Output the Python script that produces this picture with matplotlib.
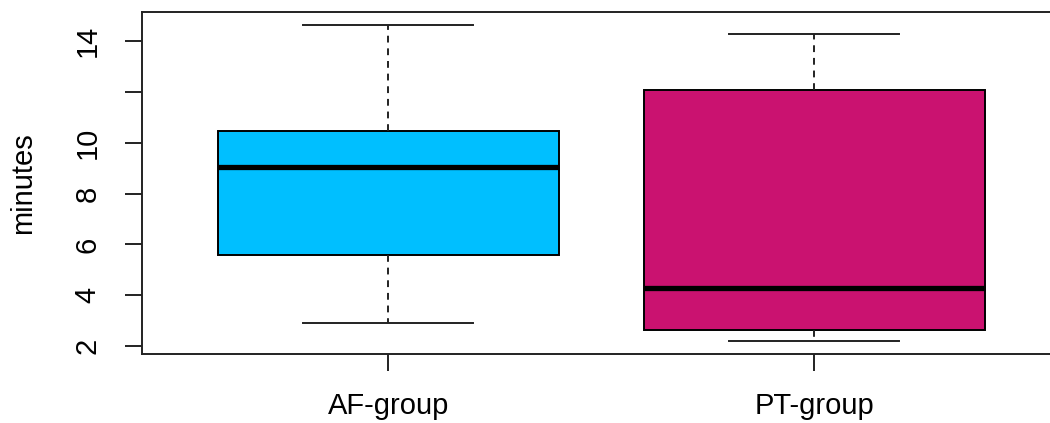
import matplotlib
matplotlib.use("Agg")
import matplotlib.pyplot as plt

# Box summary values (minutes)
groups = ["AF-group", "PT-group"]
whislo = [2.92, 2.20]
q1 = [5.58, 2.63]
med = [9.04, 4.29]
q3 = [10.46, 12.06]
whishi = [14.63, 14.27]
colors = ["#00BFFF", "#CA1270"]

yticks = [2, 4, 6, 8, 10, 12, 14]
ytick_labels = ["2", "4", "6", "8", "10", "", "14"]

plt.rcParams["font.family"] = ["Liberation Sans", "DejaVu Sans"]

fig = plt.figure(figsize=(10.5, 4.23), dpi=100)
W, H = 1050, 423
left, right, top, bottom = 142, 1060, 12, 354
ax = fig.add_axes([left / W, 1 - bottom / H, (right - left) / W, (bottom - top) / H])

stats = []
for i, g in enumerate(groups):
    stats.append({"label": g, "whislo": whislo[i], "q1": q1[i], "med": med[i],
                  "q3": q3[i], "whishi": whishi[i], "fliers": []})

lw = 1.4
bp = ax.bxp(stats, positions=[1, 2], widths=0.8, patch_artist=True,
            showfliers=False,
            boxprops=dict(linewidth=lw, edgecolor="black"),
            medianprops=dict(color="black", linewidth=3.8, solid_capstyle="butt"),
            whiskerprops=dict(color="#222222", linewidth=lw, linestyle=(0, (3.5, 3))),
            capprops=dict(color="#222222", linewidth=lw),
            capwidths=0.4)
for patch, c in zip(bp["boxes"], colors):
    patch.set_facecolor(c)

ax.set_xlim(0.422, 2.577)
ax.set_ylim(1.69, 15.14)
ax.set_xticks([1, 2])
ax.set_xticklabels(groups, fontsize=21)
ax.set_yticks(yticks)
ax.set_yticklabels(ytick_labels, rotation=90, va="center", fontsize=21)
ax.tick_params(axis="both", length=12, width=lw, color="#222222")
ax.tick_params(axis="x", pad=15)
ax.tick_params(axis="y", pad=17)

for side in ["left", "top", "bottom", "right"]:
    ax.spines[side].set_linewidth(lw)
    ax.spines[side].set_color("#222222")

ax.set_ylabel("minutes", fontsize=21, va="center")
ax.yaxis.set_label_coords((23 - left) / (right - left), 0.5)

fig.savefig("out.png", dpi=100)
